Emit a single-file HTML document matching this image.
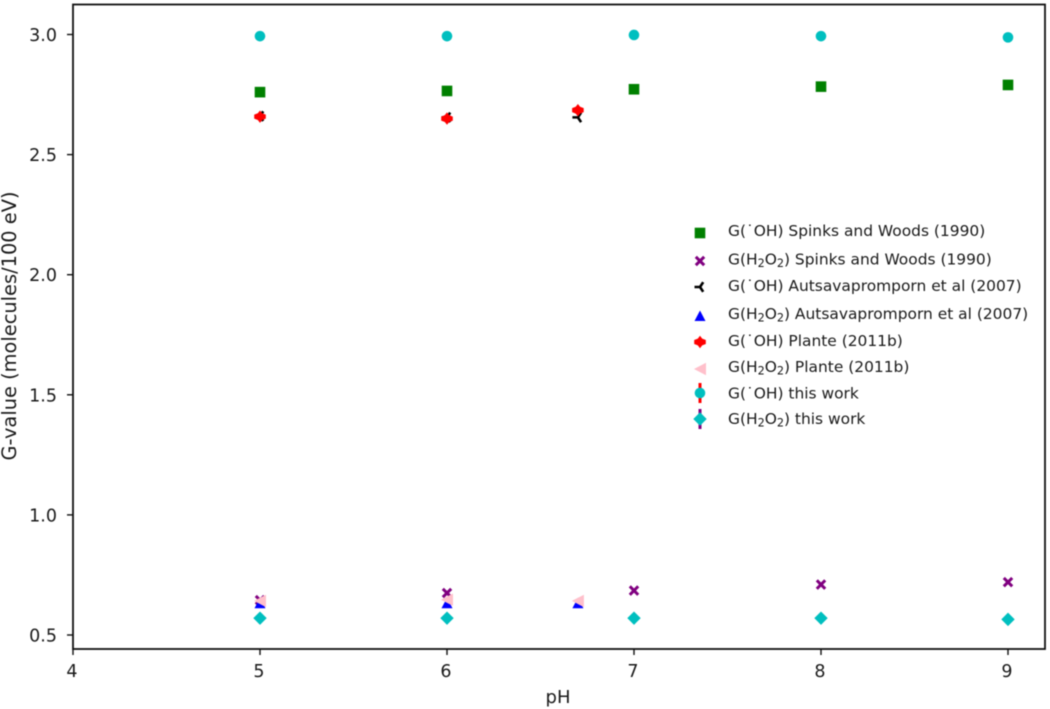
<!DOCTYPE html>
<html>
<head>
<meta charset="utf-8">
<title>G-value vs pH</title>
<style>
html,body{margin:0;padding:0;background:#fff;width:1050px;height:709px;overflow:hidden}
svg{display:block;filter:blur(0.5px);font-family:"DejaVu Sans","Liberation Sans",sans-serif}
text{fill:#1a1a1a}
</style>
</head>
<body>
<svg id="chart" xmlns="http://www.w3.org/2000/svg" width="1050" height="709" viewBox="0 0 1050 709"></svg>
<script>
const xTicks = [4, 5, 6, 7, 8, 9];
const yTicks = ["0.5", "1.0", "1.5", "2.0", "2.5", "3.0"];
const phFull = [5, 6, 7, 8, 9];
const phPartial = [5, 6, 6.7];
const ohSpinks = [2.76, 2.765, 2.772, 2.783, 2.79];
const h2o2Spinks = [0.645, 0.675, 0.685, 0.71, 0.72];
const ohAuts = [2.66, 2.655, 2.655];
const h2o2Auts = [0.632, 0.632, 0.632];
const ohPlante = [2.658, 2.65, 2.685];
const h2o2Plante = [0.642, 0.647, 0.642];
const ohThis = [2.993, 2.993, 2.998, 2.993, 2.988];
const h2o2This = [0.57, 0.57, 0.57, 0.57, 0.565];
const legendLabels = [
  ["G(\u02D9OH) Spinks and Woods (1990)"],
  ["G(H", "2", "O", "2", ") Spinks and Woods (1990)"],
  ["G(\u02D9OH) Autsavapromporn et al (2007)"],
  ["G(H", "2", "O", "2", ") Autsavapromporn et al (2007)"],
  ["G(\u02D9OH) Plante (2011b)"],
  ["G(H", "2", "O", "2", ") Plante (2011b)"],
  ["G(\u02D9OH) this work"],
  ["G(H", "2", "O", "2", ") this work"]
];

const svg = document.getElementById('chart');
const NS = 'http://www.w3.org/2000/svg';
const xScale = v => 73 + (v - 4) * 187;
const yScale = v => 635 - (v - 0.5) * 240.2;

function make(tag, attrs, parent) {
  const el = document.createElementNS(NS, tag);
  for (const k in attrs) el.setAttribute(k, attrs[k]);
  (parent || svg).appendChild(el);
  return el;
}

const markers = {
  square(g, x, y, c) { make('rect', {x: x - 5.3, y: y - 5.3, width: 10.6, height: 10.6, fill: c}, g); },
  cross(g, x, y, c) {
    make('path', {d: `M${x - 4.2} ${y - 4.2}L${x + 4.2} ${y + 4.2}M${x - 4.2} ${y + 4.2}L${x + 4.2} ${y - 4.2}`, stroke: c, 'stroke-width': 3, fill: 'none'}, g);
  },
  tri(g, x, y, c) {
    make('path', {d: `M${x - 5.5} ${y}L${x} ${y}M${x} ${y}L${x + 3.2} ${y - 4.8}M${x} ${y}L${x + 3.2} ${y + 4.8}`, stroke: c, 'stroke-width': 2.6, fill: 'none'}, g);
  },
  up(g, x, y, c) { make('path', {d: `M${x} ${y - 5.5}L${x + 5.5} ${y + 5}L${x - 5.5} ${y + 5}Z`, fill: c}, g); },
  plus(g, x, y, c) {
    make('path', {d: `M${x} ${y - 6.2}L${x + 2.2} ${y - 3.4}L${x + 5.8} ${y - 2}V${y + 2}L${x + 2.2} ${y + 3.4}L${x} ${y + 6.2}L${x - 2.2} ${y + 3.4}L${x - 5.8} ${y + 2}V${y - 2}L${x - 2.2} ${y - 3.4}Z`, fill: c}, g);
  },
  left(g, x, y, c) { make('path', {d: `M${x - 6} ${y}L${x + 6} ${y - 6.2}L${x + 6} ${y + 6.2}Z`, fill: c}, g); },
  circle(g, x, y, c) { make('circle', {cx: x, cy: y, r: 5.3, fill: c}, g); },
  diamond(g, x, y, c) { make('path', {d: `M${x} ${y - 6.7}L${x + 6.7} ${y}L${x} ${y + 6.7}L${x - 6.7} ${y}Z`, fill: c}, g); }
};

// axes frame
const frame = make('rect', {x: 73, y: 4.5, width: 972, height: 644.5, fill: 'none', stroke: '#111', 'stroke-width': 1.8});



// x axis
const xAxis = make('g', {});


xTicks.forEach(t => {
  const x = xScale(t);
  make('line', {x1: x, x2: x, y1: 649, y2: 655, stroke: '#111', 'stroke-width': 1.4}, xAxis);
  const label = make('text', {x: x - 1, y: 677, 'font-size': 17.5, 'text-anchor': 'middle'}, xAxis);
  label.textContent = t;
  
  
});
const xTitle = make('text', {x: 558, y: 703, 'font-size': 18, 'text-anchor': 'middle'});
xTitle.textContent = 'pH';



// y axis
const yAxis = make('g', {});


yTicks.forEach(t => {
  const y = yScale(parseFloat(t));
  make('line', {x1: 67, x2: 73, y1: y, y2: y, stroke: '#111', 'stroke-width': 1.4}, yAxis);
  const label = make('text', {x: 57, y: y + 6.5, 'font-size': 17.5, 'text-anchor': 'end'}, yAxis);
  label.textContent = t;
  
  
});
const yTitle = make('text', {x: 0, y: 0, 'font-size': 19.4, 'text-anchor': 'middle', transform: 'translate(16 326) rotate(-90)'});
yTitle.textContent = 'G-value (molecules/100 eV)';



// series
function drawSeries(name, xs, ys, kind, color) {
  const g = make('g', {});
  
  
  xs.forEach((v, i) => markers[kind](g, xScale(v), yScale(ys[i]), color));
}
drawSeries('series-oh-spinks', phFull, ohSpinks, 'square', '#008000');
drawSeries('series-h2o2-spinks', phFull, h2o2Spinks, 'cross', '#800080');
drawSeries('series-oh-autsavapromporn', phPartial, ohAuts, 'tri', '#000000');
drawSeries('series-h2o2-autsavapromporn', phPartial, h2o2Auts, 'up', '#0000ff');
drawSeries('series-oh-plante', phPartial, ohPlante, 'plus', '#ff0000');
drawSeries('series-h2o2-plante', phPartial, h2o2Plante, 'left', '#ffc0cb');
drawSeries('series-oh-this-work', phFull, ohThis, 'circle', '#00bfbf');
drawSeries('series-h2o2-this-work', phFull, h2o2This, 'diamond', '#00bfbf');

// legend
const legendKinds = ['square', 'cross', 'tri', 'up', 'plus', 'left', 'circle', 'diamond'];
const legendColors = ['#008000', '#800080', '#000000', '#0000ff', '#ff0000', '#ffc0cb', '#00bfbf', '#00bfbf'];
const legendMarkerY = [233, 261, 287, 316, 342, 369, 393, 419];
const legendTextY = [236, 264.5, 291, 319, 346, 372, 398.5, 424];
const legendErr = [null, null, null, null, null, null, '#ff0000', '#800080'];
const legend = make('g', {});


legendLabels.forEach((parts, i) => {
  const row = make('g', {}, legend);
  
  
  if (legendErr[i]) {
    make('line', {x1: 700, x2: 700, y1: legendMarkerY[i] - 10, y2: legendMarkerY[i] + 10, stroke: legendErr[i], 'stroke-width': 3}, row);
  }
  markers[legendKinds[i]](row, 700, legendMarkerY[i], legendColors[i]);
  const t = make('text', {x: 728, y: legendTextY[i], 'font-size': 15.45}, row);
  parts.forEach((p, j) => {
    const sub = p === '2';
    const span = make('tspan', sub ? {'font-size': 11.2, dy: 2.5} : (j > 0 ? {dy: -2.5} : {}), t);
    span.textContent = p;
  });
});
</script>
</body>
</html>
